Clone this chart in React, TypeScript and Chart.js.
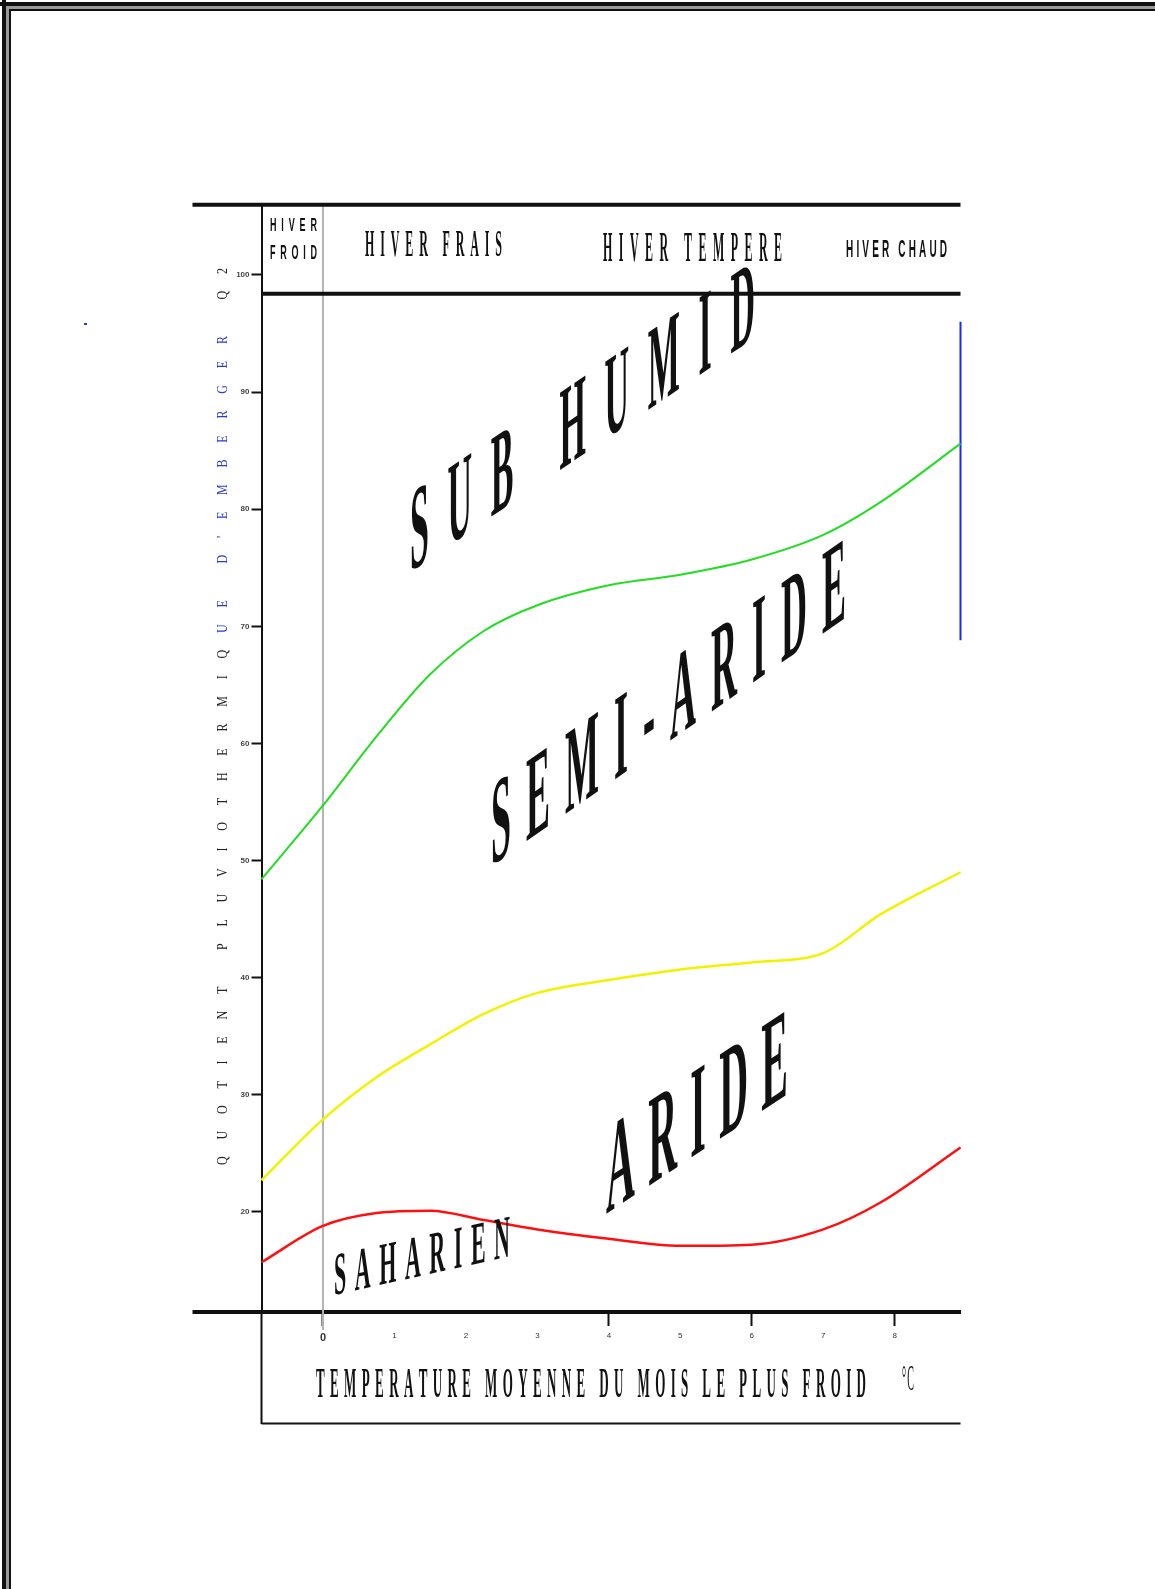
import React, { useEffect, useRef } from "react";
import { Chart, registerables } from "chart.js";

Chart.register(...registerables);

// ---- data ----
const monthTemps = [-0.86, 0, 0.75, 1.5, 2.25, 3, 4, 5, 6, 7, 7.8, 8.92];
const subhumidLimit = [48.4, 54.7, 60.6, 65.9, 69.6, 71.8, 73.5, 74.4, 75.7, 77.8, 80.6, 85.6];
const semiAridLimit = [22.7, 27.9, 31.5, 34.3, 36.9, 38.7, 39.8, 40.7, 41.3, 42.1, 45.4, 49.0];
const aridLimit = [15.7, 18.8, 19.9, 20.1, 19.3, 18.5, 17.7, 17.1, 17.2, 18.5, 20.8, 25.5];
const xTicks = [0, 1, 2, 3, 4, 5, 6, 7, 8];
const xMajorTicks = [0, 4, 6, 8];
const yTicks = [20, 30, 40, 50, 60, 70, 80, 90, 100];
const blueMarkX = [8.92, 8.92];
const blueMarkY = [96, 68.8];
const winterClasses = ["HIVER", "FROID", "HIVER FRAIS", "HIVER TEMPERE", "HIVER CHAUD"];
const zoneNames = ["SUB HUMID", "SEMI-ARIDE", "ARIDE", "SAHARIEN"];
const xTitle = "TEMPERATURE MOYENNE DU MOIS LE PLUS FROID";
const xUnit = "°C";
const yTitle = "QUOTIENT PLUVIOTHERMIQUE D'EMBERGER Q2";
const X_MIN = -0.86;
const X_MAX = 8.92;
const Y_MIN = 11.45;
const Y_MAX = 106;
const HEADER_Q = 98.4;

type TallOpts = {
  family?: string;
  weight?: string;
  color?: string;
  colorAt?: (i: number, cx: number) => string;
};

function drawTall(
  ctx: CanvasRenderingContext2D,
  text: string,
  x: number,
  y: number,
  width: number,
  capH: number,
  slope: number,
  size: number,
  opts: TallOpts = {}
) {
  const family = opts.family ?? '"Liberation Serif", "DejaVu Serif", serif';
  const weight = opts.weight ?? "normal";
  ctx.save();
  ctx.font = `${weight} ${size}px ${family}`;
  const chars = Array.from(text);
  const ws = chars.map((c) => ctx.measureText(c).width);
  const sum = ws.reduce((a, b) => a + b, 0);
  const gap = chars.length > 1 ? (width - sum) / (chars.length - 1) : 0;
  const sy = capH / (0.66 * size);
  ctx.translate(x, y);
  ctx.transform(1, slope, 0, 1, 0, 0);
  ctx.scale(1, sy);
  ctx.textBaseline = "alphabetic";
  ctx.textAlign = "left";
  let cx = 0;
  chars.forEach((c, i) => {
    ctx.fillStyle = opts.colorAt ? opts.colorAt(i, cx) : opts.color ?? "#111";
    ctx.fillText(c, cx, 0);
    cx += ws[i] + gap;
  });
  ctx.restore();
}

const decorPlugin = {
  id: "decor",
  beforeDatasetsDraw(chart: any) {
    const { ctx, scales } = chart;
    const x0 = scales.x.getPixelForValue(0);
    ctx.save();
    ctx.strokeStyle = "#b4b4b4";
    ctx.lineWidth = 2;
    ctx.beginPath();
    ctx.moveTo(x0, chart.chartArea.top);
    ctx.lineTo(x0, chart.chartArea.bottom + 18);
    ctx.stroke();
    ctx.restore();
  },
  afterDraw(chart: any) {
    const { ctx, chartArea, scales } = chart;
    const { left, right, top, bottom } = chartArea;
    ctx.save();
    // page border
    ctx.fillStyle = "#111";
    ctx.fillRect(0, 2, 1155, 4);
    ctx.fillRect(2, 0, 4, 1589);
    ctx.fillStyle = "#9a9a9a";
    ctx.fillRect(6, 6, 1149, 3);
    ctx.fillRect(6, 6, 3, 1583);
    ctx.fillStyle = "#111";
    ctx.fillRect(9, 9, 1146, 2);
    ctx.fillRect(9, 9, 2, 1580);

    // frame lines
    ctx.strokeStyle = "#111";
    ctx.lineCap = "butt";
    ctx.lineWidth = 4;
    ctx.beginPath();
    ctx.moveTo(192.5, top);
    ctx.lineTo(right, top);
    ctx.stroke();
    const hy = scales.y.getPixelForValue(HEADER_Q);
    ctx.beginPath();
    ctx.moveTo(left, hy);
    ctx.lineTo(right, hy);
    ctx.stroke();
    ctx.beginPath();
    ctx.moveTo(192.5, bottom);
    ctx.lineTo(left, bottom);
    ctx.stroke();
    ctx.lineWidth = 2;
    ctx.beginPath();
    ctx.moveTo(left, bottom);
    ctx.lineTo(left, 1424);
    ctx.moveTo(left, 1423.5);
    ctx.lineTo(right, 1423.5);
    ctx.stroke();

    // stray blue speck
    ctx.fillStyle = "#2233dd";
    ctx.fillRect(84, 323, 3, 2);

    // header texts
    drawTall(ctx, winterClasses[0], 270, 231, 47, 12, 0, 9, { weight: "bold", family: '"Liberation Sans", sans-serif' });
    drawTall(ctx, winterClasses[1], 270, 259, 47, 13, 0, 9, { weight: "bold", family: '"Liberation Sans", sans-serif' });
    drawTall(ctx, winterClasses[2], 365, 256, 137, 25, 0, 12, { weight: "bold" });
    drawTall(ctx, winterClasses[3], 603, 261, 179, 28, 0, 12, { weight: "bold" });
    drawTall(ctx, winterClasses[4], 846, 257, 101, 16, 0, 10, { weight: "bold", family: '"Liberation Sans", sans-serif' });

    // zone names
    drawTall(ctx, zoneNames[0], 410, 572, 345, 78, -0.68, 34, { weight: "bold" });
    drawTall(ctx, zoneNames[1], 491, 866, 355, 80, -0.7, 36, { weight: "bold" });
    drawTall(ctx, zoneNames[2], 606, 1214, 182, 85, -0.66, 40, { weight: "bold" });
    drawTall(ctx, zoneNames[3], 334, 1295, 176, 40, -0.22, 22, { weight: "bold" });

    // axis titles
    drawTall(ctx, xTitle, 316, 1397, 550, 28, 0, 13, { weight: "bold" });
    drawTall(ctx, xUnit, 902, 1390, 12, 24, 0, 10);

    ctx.save();
    ctx.translate(227, 1165);
    ctx.rotate(-Math.PI / 2);
    drawTall(ctx, yTitle, 0, 0, 897, 10, 0, 12, {
      colorAt: (_i, cx) => {
        const yAbs = 1165 - cx;
        return yAbs > 330 && yAbs < 650 ? "#2a3ad0" : "#222";
      },
    });
    ctx.restore();
    ctx.restore();
  },
};

function series(vals: number[]) {
  return monthTemps.map((x, i) => ({ x, y: vals[i] }));
}

export default function App() {
  const ref = useRef<HTMLCanvasElement>(null);
  useEffect(() => {
    const canvas = ref.current!;
    const chart = new Chart(canvas, {
      type: "line",
      data: {
        datasets: [
          {
            label: "Subhumide / semi-aride",
            data: series(subhumidLimit),
            borderColor: "#22dd22",
            borderWidth: 2,
            pointRadius: 0,
            cubicInterpolationMode: "monotone",
            clip: false,
          } as any,
          {
            label: "Semi-aride / aride",
            data: series(semiAridLimit),
            borderColor: "#f2f200",
            borderWidth: 2.5,
            pointRadius: 0,
            cubicInterpolationMode: "monotone",
            clip: false,
          },
          {
            label: "Aride / saharien",
            data: series(aridLimit),
            borderColor: "#ff1010",
            borderWidth: 2.5,
            pointRadius: 0,
            cubicInterpolationMode: "monotone",
            clip: false,
          },
          {
            label: "mark",
            data: blueMarkX.map((x, i) => ({ x, y: blueMarkY[i] })),
            borderColor: "#1a2aee",
            borderWidth: 2,
            pointRadius: 0,
            clip: false,
          },
        ],
      },
      options: {
        animation: false,
        responsive: false,
        devicePixelRatio: 1,
        layout: { padding: { left: 221.5, right: 194.5, top: 204.7, bottom: 237 } },
        plugins: { legend: { display: false }, tooltip: { enabled: false } },
        scales: {
          x: {
            type: "linear",
            min: X_MIN,
            max: X_MAX,
            afterBuildTicks: (s: any) => {
              s.ticks = xTicks.map((v) => ({ value: v }));
            },
            afterFit: (s: any) => {
              s.height = 40;
            },
            border: { display: true, color: "#111", width: 4 },
            grid: {
              drawOnChartArea: false,
              drawTicks: true,
              tickLength: 14,
              tickWidth: 2,
              tickColor: (c: any) =>
                c.tick && xMajorTicks.includes(c.tick.value) ? "#111" : "rgba(0,0,0,0)",
            },
            ticks: {
              maxRotation: 0,
              minRotation: 0,
              padding: 5,
              color: "#333",
              font: (c: any) =>
                c.tick && c.tick.value === 0
                  ? { size: 11, weight: "bold", family: "Liberation Sans" }
                  : { size: 8, family: "Liberation Sans" },
            },
          },
          y: {
            type: "linear",
            min: Y_MIN,
            max: Y_MAX,
            afterBuildTicks: (s: any) => {
              s.ticks = yTicks.map((v) => ({ value: v }));
            },
            afterFit: (s: any) => {
              s.width = 40;
            },
            border: { display: true, color: "#111", width: 2 },
            grid: {
              drawOnChartArea: false,
              drawTicks: true,
              tickLength: 10,
              tickWidth: 2,
              tickColor: "#111",
            },
            ticks: {
              padding: 2,
              color: "#444",
              font: { size: 8, family: "Liberation Sans", weight: "bold" },
            },
          },
        },
      },
      plugins: [decorPlugin],
    });
    return () => chart.destroy();
  }, []);
  return (
    <div style={{ position: "absolute", left: 0, top: 0, width: 1155, height: 1589, background: "#fff" }}>
      <canvas ref={ref} width={1155} height={1589} style={{ display: "block", width: 1155, height: 1589 }} />
    </div>
  );
}
